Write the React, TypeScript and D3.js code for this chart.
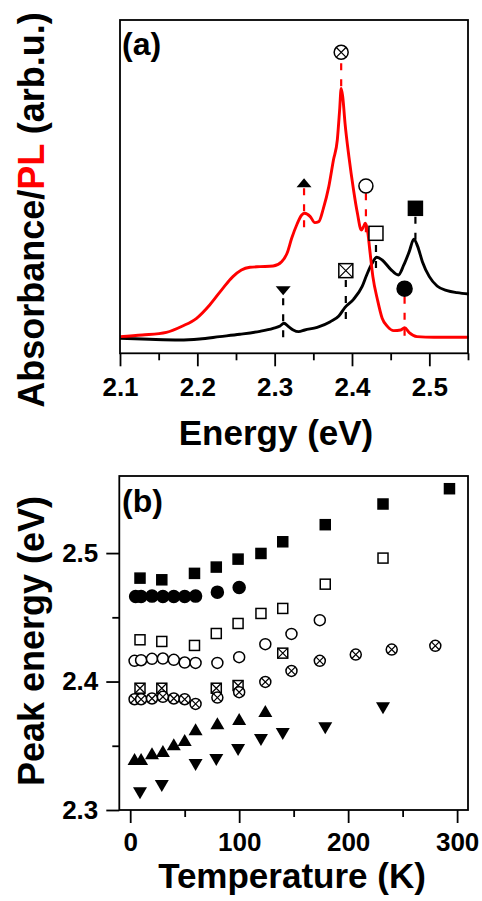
import { useEffect, useRef } from "react";
import * as d3 from "d3";

// ---- panel (a): spectra, energy (eV) vs intensity (arb. units, 0-100 of the frame)
const plEnergy = [
  2.1, 2.129, 2.16, 2.181, 2.199, 2.216, 2.233, 2.246, 2.257, 2.268, 2.281, 2.298,
  2.309, 2.316, 2.322, 2.329, 2.335, 2.339, 2.346, 2.352, 2.357, 2.363, 2.37, 2.376,
  2.381, 2.384, 2.386, 2.388, 2.391, 2.396, 2.402, 2.407, 2.412, 2.415, 2.417, 2.42,
  2.423, 2.427, 2.433, 2.439, 2.446, 2.454, 2.463, 2.468, 2.474, 2.484, 2.506, 2.551,
];
const plValue = [
  5.0, 5.5, 6.3, 8.2, 10.5, 14.5, 19.5, 23.0, 25.0, 25.8, 26.0, 26.2,
  27.5, 30.0, 34.5, 38.8, 41.5, 42.0, 41.0, 39.2, 39.5, 43.5, 50.0, 58.0,
  64.0, 73.0, 79.5, 77.0, 69.0, 59.0, 49.0, 42.0, 37.0, 38.0, 39.0, 37.0,
  31.0, 23.0, 16.0, 10.5, 8.0, 6.8, 7.0, 7.7, 6.2, 5.0, 4.8, 4.8,
];
const absEnergy = [
  2.1, 2.138, 2.177, 2.203, 2.229, 2.255, 2.281, 2.298, 2.307, 2.312, 2.318, 2.324,
  2.331, 2.339, 2.355, 2.372, 2.383, 2.391, 2.402, 2.413, 2.419, 2.426, 2.432, 2.439,
  2.45, 2.46, 2.467, 2.474, 2.48, 2.485, 2.491, 2.5, 2.51, 2.523, 2.536, 2.551,
];
const absValue = [
  4.5, 4.2, 4.0, 4.3, 5.0, 5.7, 6.6, 7.5, 8.2, 9.0, 8.0, 7.0,
  6.5, 7.0, 7.8, 9.5, 11.2, 13.8, 16.2, 20.0, 23.5, 27.0, 28.8, 28.0,
  25.2, 23.5, 26.5, 30.5, 34.2, 32.0, 27.5, 23.0, 20.2, 18.8, 18.2, 17.8,
];

// peak assignments marked in (a)
const peakEnergy = [2.386, 2.338, 2.418, 2.431, 2.482, 2.392, 2.311, 2.468];
const peakSymbol = ["cix", "tu", "cio", "sqo", "sq", "sqx", "td", "ci"];
const peakSource = ["PL", "PL", "PL", "Abs", "Abs", "Abs", "Abs", "PL"];
const peakMarkLevel = [90.3, 51.2, 50.2, 36, 43.5, 24.8, 18.8, 19.4];
const peakDashTop = [87, 49.5, 48, 32.5, 41, 22, 16.5, 17];
const peakDashBottom = [79.5, 36, 34, 24, 34, 8, 3, 3];

// ---- panel (b): peak energy (eV) vs temperature (K)
const tSq = [9, 29, 59, 79, 99, 120, 140, 179, 232, 293];
const eSq = [2.4805, 2.4792, 2.4842, 2.4891, 2.4953, 2.4997, 2.5088, 2.5221, 2.5382, 2.5501];
const tCi = [5, 10, 20, 30, 40, 50, 60, 80, 100];
const eCi = [2.4662, 2.4662, 2.4665, 2.4662, 2.4662, 2.4662, 2.4665, 2.4696, 2.4732];
const tSqo = [9, 29, 59, 79, 99, 120, 140, 179, 232];
const eSqo = [2.4325, 2.4312, 2.4281, 2.4374, 2.4452, 2.453, 2.4569, 2.4758, 2.4961];
const tCio = [4, 10, 20, 30, 40, 50, 60, 80, 100, 124, 148, 174];
const eCio = [2.4161, 2.4166, 2.4177, 2.4179, 2.4169, 2.4148, 2.4145, 2.4145, 2.419, 2.4291, 2.4371, 2.4478];
const tCix = [4, 10, 20, 30, 40, 50, 60, 80, 100, 124, 148, 174, 207, 240, 280];
const eCix = [2.3862, 2.3862, 2.3868, 2.3881, 2.3868, 2.3862, 2.3826, 2.3875, 2.3917, 2.3997, 2.4083, 2.4161, 2.421, 2.4249, 2.4278];
const tSqx = [9, 29, 79, 99, 140];
const eSqx = [2.3948, 2.3948, 2.3948, 2.3969, 2.4221];
const tTu = [4, 10, 20, 30, 40, 50, 60, 80, 100, 124];
const eTu = [2.3397, 2.3397, 2.3442, 2.346, 2.3512, 2.3545, 2.3629, 2.3675, 2.3709, 2.3771];
const tTd = [9, 29, 60, 79, 99, 120, 140, 179, 232];
const eTd = [2.313, 2.3187, 2.3351, 2.339, 2.3468, 2.3545, 2.3592, 2.3636, 2.3792];

const FONT = "'Liberation Sans', Arial, Helvetica, sans-serif";

type G = d3.Selection<SVGGElement, unknown, null, undefined>;

// draw one symbol; big = the larger symbols used in panel (a)
function marker(g: G, type: string, cx: number, cy: number, big: boolean) {
  const s = big ? 14 : 10;
  const r = big ? 7 : 5.5;
  const tw = big ? 15 : 14;
  const th = big ? 9 : 12;
  const sw = 1.5;
  if (type === "sq" || type === "sqo" || type === "sqx") {
    g.append("rect")
      .attr("x", cx - s / 2)
      .attr("y", cy - s / 2)
      .attr("width", s)
      .attr("height", s)
      .attr("fill", type === "sq" ? "black" : "white")
      .attr("stroke", "black")
      .attr("stroke-width", sw);
    if (type === "sqx") {
      g.append("path")
        .attr("d", `M${cx - s / 2},${cy - s / 2}L${cx + s / 2},${cy + s / 2}M${cx + s / 2},${cy - s / 2}L${cx - s / 2},${cy + s / 2}`)
        .attr("stroke", "black")
        .attr("stroke-width", 1.2);
    }
  } else if (type === "ci" || type === "cio" || type === "cix") {
    g.append("circle")
      .attr("cx", cx)
      .attr("cy", cy)
      .attr("r", type === "ci" ? r + 0.5 : r)
      .attr("fill", type === "ci" ? "black" : "white")
      .attr("stroke", "black")
      .attr("stroke-width", sw);
    if (type === "cix") {
      const d = r * 0.72;
      g.append("path")
        .attr("d", `M${cx - d},${cy - d}L${cx + d},${cy + d}M${cx + d},${cy - d}L${cx - d},${cy + d}`)
        .attr("stroke", "black")
        .attr("stroke-width", 1.2);
    }
  } else if (type === "tu") {
    g.append("path")
      .attr("d", `M${cx - tw / 2},${cy + th / 2}L${cx + tw / 2},${cy + th / 2}L${cx},${cy - th / 2}Z`)
      .attr("fill", "black");
  } else if (type === "td") {
    g.append("path")
      .attr("d", `M${cx - tw / 2},${cy - th / 2}L${cx + tw / 2},${cy - th / 2}L${cx},${cy + th / 2}Z`)
      .attr("fill", "black");
  }
}

function styleAxis(g: G, fontSize: number) {
  g.select(".domain").remove();
  g.selectAll("line").attr("stroke", "black").attr("stroke-width", 1.8);
  g.selectAll("text")
    .attr("font-family", FONT)
    .attr("font-weight", "bold")
    .attr("font-size", fontSize)
    .attr("fill", "black");
}

export default function App() {
  const svgRef = useRef<SVGSVGElement | null>(null);

  useEffect(() => {
    if (!svgRef.current) return;
    const svg = d3.select(svgRef.current);
    svg.selectAll("*").remove();
    const root = svg.append("g") as unknown as G;

    // ================= panel (a) =================
    const xA = d3.scaleLinear().domain([2.1, 2.55]).range([120, 468]);
    const yA = d3.scaleLinear().domain([0, 100]).range([353.3, 20]);

    const line = d3
      .line<[number, number]>()
      .x((d) => xA(d[0]))
      .y((d) => yA(d[1]))
      .curve(d3.curveMonotoneX);

    const absPts = absEnergy.map((e, i) => [e, absValue[i]] as [number, number]);
    const plPts = plEnergy.map((e, i) => [e, plValue[i]] as [number, number]);

    root.append("path")
      .attr("d", line(absPts))
      .attr("fill", "none")
      .attr("stroke", "black")
      .attr("stroke-width", 2.9)
      .attr("stroke-linejoin", "round");
    root.append("path")
      .attr("d", line(plPts))
      .attr("fill", "none")
      .attr("stroke", "#ff0000")
      .attr("stroke-width", 2.9)
      .attr("stroke-linejoin", "round");

    // dashed peak guides + symbols
    peakEnergy.forEach((e, i) => {
      root.append("line")
        .attr("x1", xA(e))
        .attr("x2", xA(e))
        .attr("y1", yA(peakDashTop[i]))
        .attr("y2", yA(peakDashBottom[i]))
        .attr("stroke", peakSource[i] === "PL" ? "#ff0000" : "black")
        .attr("stroke-width", 2.2)
        .attr("stroke-dasharray", "7,9");
      marker(root, peakSymbol[i], xA(e), yA(peakMarkLevel[i]), true);
    });

    root.append("rect")
      .attr("x", 120)
      .attr("y", 20)
      .attr("width", 348)
      .attr("height", 333.3)
      .attr("fill", "none")
      .attr("stroke", "black")
      .attr("stroke-width", 1.8);

    const axA = root.append("g").attr("transform", "translate(0,353.3)") as unknown as G;
    axA.call(
      d3.axisBottom(xA).tickValues([2.1, 2.2, 2.3, 2.4, 2.5]).tickFormat(d3.format(".1f")).tickSize(13).tickPadding(11)
    );
    styleAxis(axA, 26);
    const axAm = root.append("g").attr("transform", "translate(0,353.3)") as unknown as G;
    axAm.call(d3.axisBottom(xA).tickValues([2.15, 2.25, 2.35, 2.45, 2.55]).tickFormat(() => "").tickSize(7));
    styleAxis(axAm, 26);

    root.append("text")
      .attr("x", 122)
      .attr("y", 55)
      .attr("font-family", FONT)
      .attr("font-weight", "bold")
      .attr("font-size", 32)
      .text("(a)");

    root.append("text")
      .attr("x", 276)
      .attr("y", 445)
      .attr("text-anchor", "middle")
      .attr("font-family", FONT)
      .attr("font-weight", "bold")
      .attr("font-size", 35)
      .text("Energy (eV)");

    const tA = root.append("text")
      .attr("transform", "translate(44,210) rotate(-90)")
      .attr("text-anchor", "middle")
      .attr("font-family", FONT)
      .attr("font-weight", "bold")
      .attr("font-size", 36);
    tA.append("tspan").text("Absorbance/");
    tA.append("tspan").attr("fill", "#ff0000").text("PL");
    tA.append("tspan").text(" (arb.u.)");

    // ================= panel (b) =================
    const xB = d3.scaleLinear().domain([-10, 310]).range([119.3, 468]);
    const yB = d3.scaleLinear().domain([2.3, 2.56]).range([810, 476]);

    const series: [string, number[], number[]][] = [
      ["sq", tSq, eSq],
      ["ci", tCi, eCi],
      ["sqo", tSqo, eSqo],
      ["cio", tCio, eCio],
      ["sqx", tSqx, eSqx],
      ["cix", tCix, eCix],
      ["tu", tTu, eTu],
      ["td", tTd, eTd],
    ];
    series.forEach(([type, ts, es]) => {
      ts.forEach((t, i) => marker(root, type, xB(t), yB(es[i]), false));
    });

    root.append("rect")
      .attr("x", 119.3)
      .attr("y", 476)
      .attr("width", 348.7)
      .attr("height", 334)
      .attr("fill", "none")
      .attr("stroke", "black")
      .attr("stroke-width", 1.8);

    const axBx = root.append("g").attr("transform", "translate(0,810)") as unknown as G;
    axBx.call(d3.axisBottom(xB).tickValues([0, 100, 200, 300]).tickFormat(d3.format("d")).tickSize(13).tickPadding(10));
    styleAxis(axBx, 26);
    const axBxm = root.append("g").attr("transform", "translate(0,810)") as unknown as G;
    axBxm.call(d3.axisBottom(xB).tickValues([50, 150, 250]).tickFormat(() => "").tickSize(7));
    styleAxis(axBxm, 26);

    const axBy = root.append("g").attr("transform", "translate(119.3,0)") as unknown as G;
    axBy.call(d3.axisLeft(yB).tickValues([2.3, 2.4, 2.5]).tickFormat(d3.format(".1f")).tickSize(13).tickPadding(8));
    styleAxis(axBy, 26);
    const axBym = root.append("g").attr("transform", "translate(119.3,0)") as unknown as G;
    axBym.call(d3.axisLeft(yB).tickValues([2.35, 2.45]).tickFormat(() => "").tickSize(7));
    styleAxis(axBym, 26);

    root.append("text")
      .attr("x", 122)
      .attr("y", 512)
      .attr("font-family", FONT)
      .attr("font-weight", "bold")
      .attr("font-size", 32)
      .text("(b)");

    root.append("text")
      .attr("x", 292)
      .attr("y", 888)
      .attr("text-anchor", "middle")
      .attr("font-family", FONT)
      .attr("font-weight", "bold")
      .attr("font-size", 35)
      .text("Temperature (K)");

    root.append("text")
      .attr("transform", "translate(44,641) rotate(-90)")
      .attr("text-anchor", "middle")
      .attr("font-family", FONT)
      .attr("font-weight", "bold")
      .attr("font-size", 36)
      .text("Peak energy (eV)");
  }, []);

  return (
    <svg
      ref={svgRef}
      width={482}
      height={901}
      style={{ position: "absolute", left: 0, top: 0, background: "white" }}
    ></svg>
  );
}
